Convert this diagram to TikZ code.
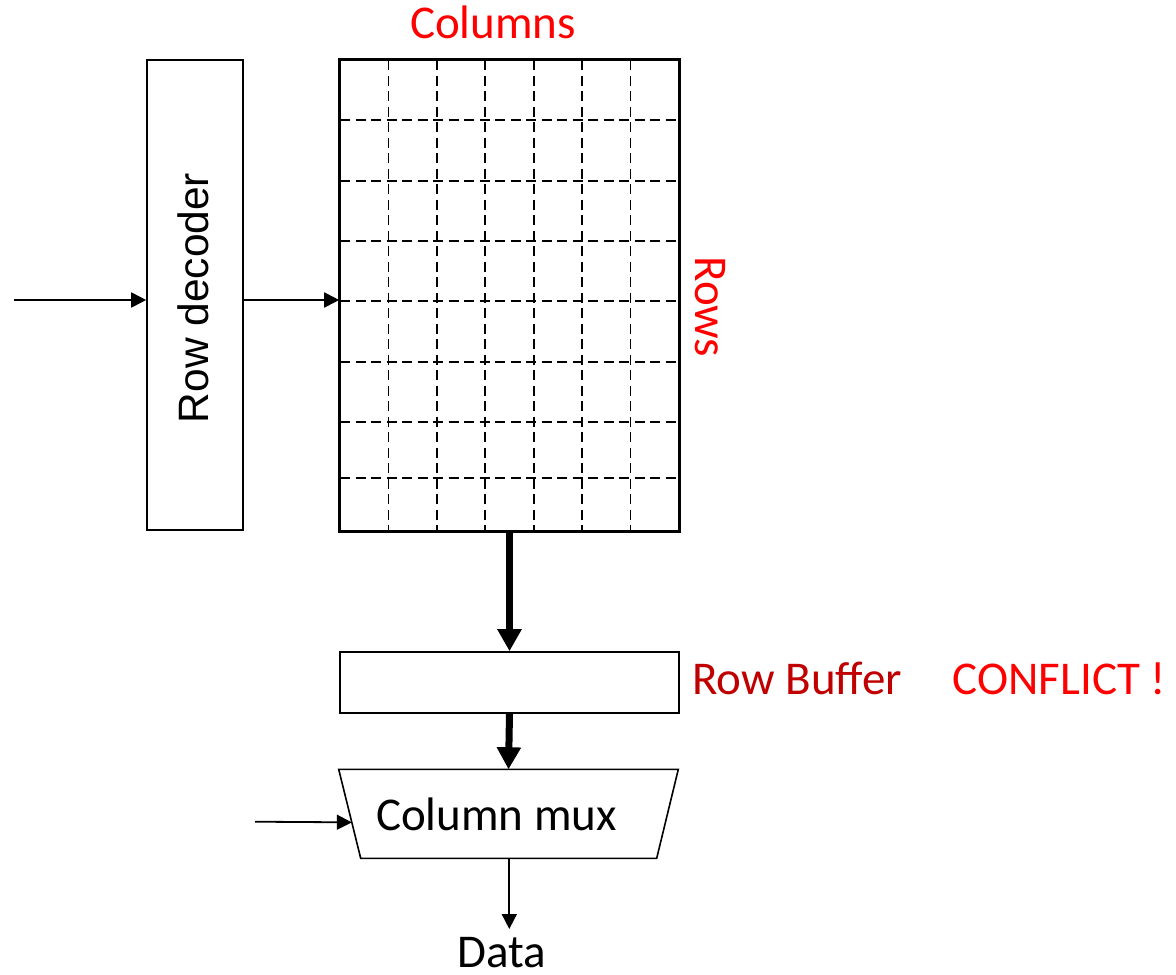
\documentclass[tikz,border=0pt]{standalone}
\usepackage{fontspec}
\setmainfont{Carlito}
\newfontfamily\arialfont{Liberation Sans}
\usetikzlibrary{arrows.meta,calc}
\definecolor{brightred}{HTML}{FF0000}
\definecolor{darkred}{HTML}{C00000}
\tikzset{
  box/.style={draw=black, line width=1.6pt, inner sep=0pt, fill=white},
  gridline/.style={line width=1.7pt, dash pattern=on 10pt off 5.5pt},
  thinarrow/.style={line width=1.8pt, -{Triangle[length=15pt,width=15pt]}},
  thickarrow/.style={line width=7pt, -{Triangle[length=22pt,width=23pt]}},
  bigtext/.style={inner sep=0pt, anchor=base, font=\fontsize{47}{56}\selectfont},
  redtext/.style={bigtext, text=brightred},
}
\begin{document}
\begin{tikzpicture}[x=1pt,y=-1pt]
\useasboundingbox[fill=white] (0,0) rectangle (1176,975);

% row decoder
\node[box, minimum width=96pt, minimum height=470pt] (rowdec) at (195,295) {};
\node[inner sep=0pt, anchor=base, rotate=90, font=\arialfont\fontsize{42.5}{50}\selectfont] (rowdeclabel) at (208,298) {Row decoder};

% array
\node[box, minimum width=339pt, minimum height=471pt] (array) at (509.5,295.5) {};
\foreach \yy in {120.3,180.7,241.3,301.3,362,421.7,477.7}
  \draw[gridline] (340,\yy) -- (679,\yy);
\foreach \xx in {388.4,436.9,485.3,533.7,582.1,630.6}
  \draw[gridline] (\xx,60) -- (\xx,531);
\draw[line width=1.6pt] (array.south west) rectangle (array.north east);

\node[redtext] (columns) at (493,38) {Columns};
\node[redtext, rotate=-90] (rows) at (695,307) {Rows};

% row buffer
\node[box, minimum width=339pt, minimum height=61pt] (rowbuf) at (509.5,682.5) {};
\node[bigtext, text=darkred] (rowbuflabel) at (797,694) {Row Buffer};
\node[redtext] (conflict) at (1059.5,694) {CONFLICT !};

% column mux
\coordinate (mtl) at (338.7,769.3);
\coordinate (mtr) at (678.3,769.3);
\coordinate (mbr) at (656.7,858.3);
\coordinate (mbl) at (360.7,858.3);
\draw[line width=1.6pt, fill=white] (mtl) -- (mtr) -- (mbr) -- (mbl) -- cycle;
\coordinate (muxtop) at ($(mtl)!0.5!(mtr)$);
\coordinate (muxbot) at (509.3,858.3);
\coordinate (muxin) at ($(mtl)!0.596!(mbl)$);
\node[bigtext] (muxlabel) at (496.5,830.7) {Column mux};

% data
\node[bigtext] (data) at (501.5,967) {Data};
\coordinate (dataend) at (509.3,929);

% inputs
\coordinate (in1) at (14,300);
\coordinate (in2) at (255,821.7);

% connectors
\draw[thinarrow] (in1) -- (in1 -| rowdec.west);
\draw[thinarrow] (rowdec.east |- in1) -- (array.west |- in1);
\draw[thickarrow] (array.south) -- (rowbuf.north);
\draw[thickarrow] (rowbuf.south) -- (muxtop);
\draw[thinarrow] (in2) -- (muxin);
\draw[thinarrow] (muxbot) -- (dataend);
\end{tikzpicture}
\end{document}
